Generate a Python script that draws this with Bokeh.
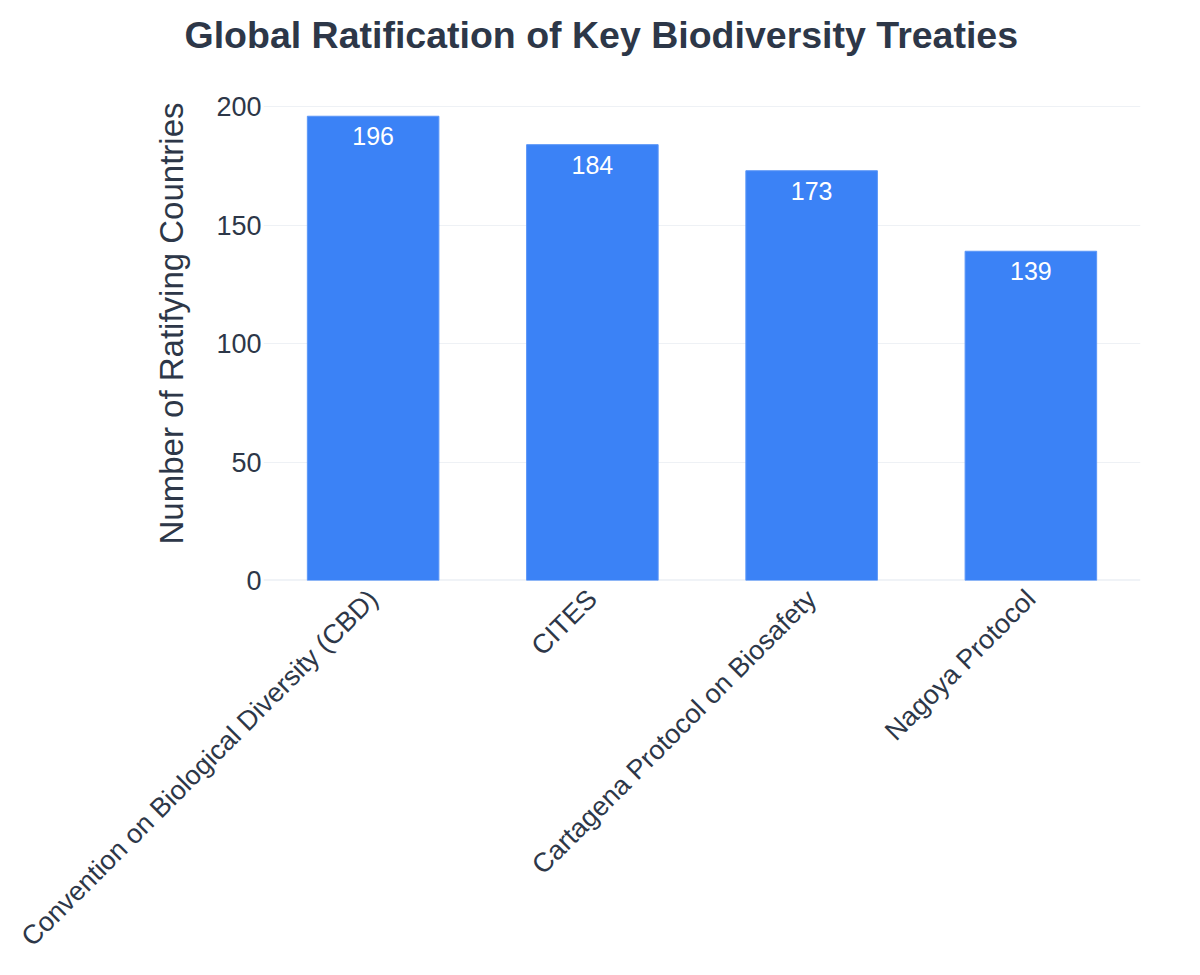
import math

from bokeh.core.properties import value
from bokeh.embed import file_html
from bokeh.models import ColumnDataSource, FixedTicker, LabelSet, Range1d, Span
from bokeh.plotting import figure
from bokeh.resources import INLINE

# Ratification counts per treaty
treaties = [
    "Convention on Biological Diversity (CBD)",
    "CITES",
    "Cartagena Protocol on Biosafety",
    "Nagoya Protocol",
]
parties = [196, 184, 173, 139]
y_ticks = [0, 50, 100, 150, 200]

FONT = "Liberation Sans"
INK = "#2d3748"
BAR = "#3b82f6"

src = ColumnDataSource(dict(
    treaty=treaties,
    parties=parties,
    label=[str(v) for v in parties],
))

p = figure(
    x_range=treaties,
    y_range=Range1d(0, 217),
    width=1200,
    height=975,
    output_backend="svg",
    toolbar_location=None,
    title="Global Ratification of Key Biodiversity Treaties",
    min_border_left=263,
    min_border_right=60,
    min_border_top=0,
    min_border_bottom=395,
)
p.outline_line_color = None
p.background_fill_color = "white"
p.border_fill_color = "white"

# title
p.title.text_font = FONT
p.title.text_font_size = "37.5px"
p.title.text_font_style = "bold"
p.title.text_color = INK
p.title.align = "left"
p.title.offset = -79
p.title.standoff = 22

# zero line beneath the bars
p.add_layout(Span(location=0, dimension="width", line_color="#e2e8f0",
                  line_width=2, level="underlay"))

p.vbar(x="treaty", top="parties", width=0.6, source=src,
       fill_color=BAR, line_color="#5b96f7", line_width=1)

# value labels inside the top of each bar
p.add_layout(LabelSet(
    x="treaty", y="parties", text="label", source=src,
    text_align="center", text_baseline="alphabetic", y_offset=-29,
    text_color="white", text_font=value(FONT), text_font_size="25px",
))

# y axis
p.yaxis.ticker = FixedTicker(ticks=y_ticks)
p.yaxis.axis_label = "Number of Ratifying Countries"
p.yaxis.axis_label_text_font = FONT
p.yaxis.axis_label_text_font_size = "33px"
p.yaxis.axis_label_text_font_style = "normal"
p.yaxis.axis_label_text_color = INK
p.yaxis.axis_label_standoff = 23
p.yaxis.major_label_text_font = FONT
p.yaxis.major_label_text_font_size = "27px"
p.yaxis.major_label_text_color = INK
p.yaxis.major_label_standoff = -4
p.yaxis.axis_line_color = None
p.yaxis.major_tick_line_color = None
p.yaxis.minor_tick_line_color = None

# x axis
p.xaxis.major_label_orientation = math.pi / 4
p.xaxis.major_label_text_font = FONT
p.xaxis.major_label_text_font_size = "27px"
p.xaxis.major_label_text_color = INK
p.xaxis.major_label_standoff = 8
p.xaxis.axis_line_color = None
p.xaxis.major_tick_line_color = None
p.xaxis.minor_tick_line_color = None

p.xgrid.grid_line_color = None
p.ygrid.grid_line_color = "#eef1f5"
p.ygrid.grid_line_width = 1

open("out.html", "w").write(file_html(p, INLINE))
